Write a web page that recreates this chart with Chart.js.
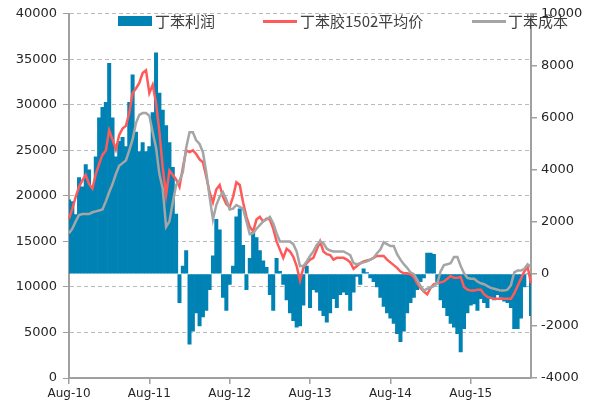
<!DOCTYPE html>
<html>
<head>
<meta charset="utf-8">
<script src="https://cdn.jsdelivr.net/npm/chart.js@4.4.0/dist/chart.umd.min.js"></script>
<style>
body{margin:0;background:#fff}
#wrap{position:relative;width:595px;height:405px}
canvas{display:block}
.lg{position:absolute;top:11px;font:15px "Noto Sans CJK SC",sans-serif;color:#404040;line-height:20px;white-space:nowrap}
.sw{position:absolute}
</style>
</head>
<body>
<div id="wrap">
<canvas id="myChart" width="595" height="405"></canvas>
<div class="sw" style="left:118px;top:16px;width:34px;height:10px;background:#0082b4"></div>
<div class="lg" style="left:155px">丁苯利润</div>
<div class="sw" style="left:263px;top:20px;width:34px;height:3px;background:#ff5a5a"></div>
<div class="lg" style="left:300px">丁苯胶1502平均价</div>
<div class="sw" style="left:472px;top:20px;width:34px;height:3px;background:#a5a5a5"></div>
<div class="lg" style="left:508px">丁苯成本</div>
</div>
<script>
// semi-monthly points, 2010-08-01 .. 2016-05-16
var xTickLabels = ['Aug-10', 'Aug-11', 'Aug-12', 'Aug-13', 'Aug-14', 'Aug-15'];

// 丁苯胶1502平均价 (left axis)
var price = [
  17500, 18600, 19900, 21000, 21700, 22300, 21300, 20800, 22400, 23500,
  24500, 25000, 27200, 26200, 25100, 26700, 27400, 27700, 29100, 31300,
  31800, 32400, 33500, 33800, 31300, 32200, 30200, 27000, 23100, 20100,
  22800, 22300, 21800, 21000, 23100, 25000, 24800, 25000, 24600, 24000,
  23700, 22100, 20400, 19300, 20700, 21200, 19900, 19100, 18800, 19900,
  21500, 21200, 19300, 17700, 16600, 16100, 17400, 17700, 17200, 17500,
  17400, 16400, 15000, 14100, 13200, 14200, 13900, 13300, 12300, 10700,
  12100, 12600, 13000, 13200, 14100, 15000, 13900, 13600, 13500, 13000,
  13200, 13200, 13200, 13000, 12700, 12000, 12300, 12600, 12800, 12900,
  13000, 13200, 13400, 13400, 13400, 13000, 12700, 12400, 12100, 11700,
  11500, 11500, 11400, 11100, 10400, 9900, 9500, 9200, 9900, 10300,
  10400, 10500, 10600, 10900, 11200, 11000, 11000, 11100, 10000, 9700,
  9600, 9600, 9700, 9700, 9200, 8900, 8800, 8700, 8700, 8700,
  8700, 8700, 8700, 9300, 10100, 10900, 11700, 12200, 10400
];

// 丁苯成本 (left axis)
var cost = [
  15900, 16400, 17200, 17900, 18000, 18000, 18000, 18200, 18300, 18400,
  18500, 19400, 20400, 21300, 22400, 23300, 23600, 23900, 25000, 26200,
  28000, 28900, 29100, 29100, 28800, 27000, 25300, 22400, 20800, 16600,
  17200, 19300, 21200, 21700, 22600, 25300, 27000, 27000, 26100, 25700,
  24800, 22600, 19900, 17400, 19000, 19900, 20400, 19600, 18500, 18600,
  19000, 18800, 18600, 17200, 15800, 15900, 16400, 16800, 17200, 17400,
  17700, 17000, 15900, 15000, 15000, 15000, 15000, 14700, 13900, 12300,
  12300, 12800, 13400, 13900, 14600, 15000, 14800, 14200, 14000, 13900,
  13900, 13900, 13900, 13700, 13500, 12600, 12500, 12600, 12700, 12800,
  13000, 13200, 13700, 14100, 14900, 14700, 14500, 14500, 13600, 13000,
  12500, 12100, 11600, 11400, 10800, 10100, 9600, 9800, 9900, 10100,
  10400, 11700, 12400, 12500, 12600, 13300, 13300, 12300, 11500, 11000,
  10900, 10900, 10600, 10400, 10300, 10100, 9900, 9800, 9700, 9600,
  9600, 9700, 10200, 11600, 11800, 11800, 12000, 12500, 12200
];

// 丁苯利润 (right axis)
var profit = [
  2850, 2780, 2280, 3700, 3350, 4200, 4000, 3350, 4500, 6000,
  6400, 6600, 8100, 6000, 4500, 5100, 5250, 4900, 6600, 7650,
  5450, 4700, 5050, 4700, 4900, 6200, 8500, 6950, 6300, 5700,
  5050, 4100, 2300, -1100, 300, 900, -2700, -2200, -1500, -2000,
  -1650, -1400, -600, 700, 2100, 1700, -900, -1400, -400, 300,
  2200, 2500, 1100, -600, 600, 1600, 1400, 900, 500, 250,
  -800, -1400, 600, 100, -400, -1000, -1500, -1800, -2050, -2000,
  -1200, 300, -1300, -600, -700, -1400, -1600, -1850, -1500, -950,
  -1300, -800, -700, -800, -1400, -700, -100, -400, 200, 50,
  -150, -300, -500, -900, -1250, -1500, -1700, -1900, -2300, -2600,
  -2200, -1500, -1100, -900, -600, -300, -150, 800, 800, 750,
  -300, -1000, -1300, -1600, -1900, -2050, -2300, -3000, -2100, -1500,
  -1200, -1150, -1400, -950, -1100, -1300, -950, -1000, -800, -900,
  -1050, -1100, -1300, -2100, -2100, -1700, -500, 0, -1600
];

var labels = [];
for (var i = 0; i < price.length; i++) {
  var m = 7 + Math.floor(i / 2);
  var yr = 2010 + Math.floor(m / 12);
  var mo = (m % 12) + 1;
  labels.push(yr + '-' + (mo < 10 ? '0' : '') + mo + (i % 2 ? '-16' : '-01'));
}

var axisGray = '#a0a0a0';
var tickFont = {family: 'DejaVu Sans', size: 13};

var ctx = document.getElementById('myChart').getContext('2d');
var myChart = new Chart(ctx, {
  data: {
    labels: labels,
    datasets: [
      {
        type: 'bar',
        label: '丁苯利润',
        data: profit,
        yAxisID: 'y1',
        backgroundColor: '#0082b4',
        barPercentage: 1,
        categoryPercentage: 1,
        order: 3
      },
      {
        type: 'line',
        label: '丁苯胶1502平均价',
        data: price,
        yAxisID: 'y',
        borderColor: '#ff5a5a',
        borderWidth: 2.5,
        pointRadius: 0,
        tension: 0,
        order: 2
      },
      {
        type: 'line',
        label: '丁苯成本',
        data: cost,
        yAxisID: 'y',
        borderColor: '#a5a5a5',
        borderWidth: 2.5,
        pointRadius: 0,
        tension: 0,
        order: 1
      }
    ]
  },
  options: {
    responsive: false,
    animation: false,
    devicePixelRatio: 1,
    layout: {padding: {top: 6}},
    plugins: {
      legend: {display: false},
      tooltip: {enabled: false}
    },
    scales: {
      x: {
        offset: false,
        afterBuildTicks: function (s) {
          s.ticks = s.ticks.filter(function (t) { return t.value % 24 === 0; });
        },
        afterFit: function (s) { s.height = 27; },
        ticks: {
          autoSkip: false,
          maxRotation: 0,
          padding: 3,
          color: '#262626',
          font: {family: 'DejaVu Sans', size: 12},
          callback: function (v) { return xTickLabels[v / 24]; }
        },
        grid: {offset: false, drawOnChartArea: false, tickLength: 6, color: axisGray, lineWidth: 1.5},
        border: {color: axisGray, width: 2}
      },
      y: {
        position: 'left',
        min: 0,
        max: 40000,
        afterFit: function (s) { s.width = 69; },
        ticks: {
          stepSize: 5000,
          padding: 6,
          color: '#262626',
          font: tickFont,
          callback: function (v) { return v; }
        },
        grid: {color: '#bababa', tickColor: axisGray, tickLength: 6, tickBorderDash: [], lineWidth: 1},
        border: {color: axisGray, width: 2, dash: [4, 3]}
      },
      y1: {
        position: 'right',
        min: -4000,
        max: 10000,
        afterFit: function (s) { s.width = 64; },
        ticks: {
          stepSize: 2000,
          padding: 4,
          color: '#262626',
          font: tickFont,
          callback: function (v) { return v; }
        },
        grid: {drawOnChartArea: false, color: axisGray, tickLength: 6, lineWidth: 1.5},
        border: {color: axisGray, width: 2}
      }
    }
  }
});
</script>
</body>
</html>
